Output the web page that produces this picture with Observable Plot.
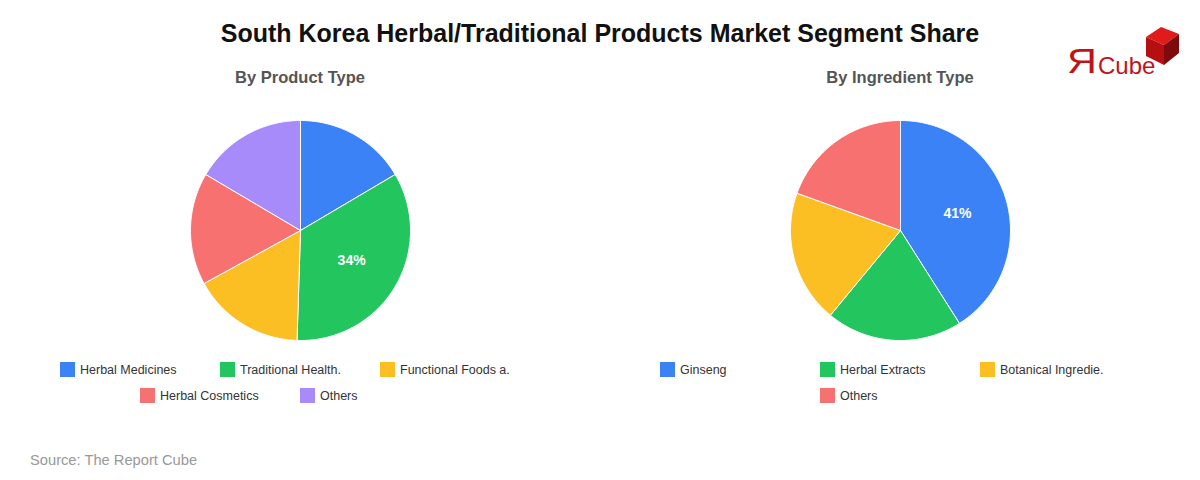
<!DOCTYPE html>
<html>
<head>
<meta charset="utf-8">
<script src="https://cdn.jsdelivr.net/npm/d3@7"></script>
<script src="https://cdn.jsdelivr.net/npm/@observablehq/plot@0.6"></script>
<style>
  html, body { margin: 0; padding: 0; background: #fff; }
  body { width: 1200px; height: 480px; position: relative; overflow: hidden; font-family: "Liberation Sans", Arial, sans-serif; }
  #title { position: absolute; top: 18px; left: 0; width: 1200px; text-align: center; font-size: 25px; font-weight: bold; color: #111; line-height: 30px; }
  .col { position: absolute; top: 0; width: 600px; height: 420px; }
  .sub { position: absolute; top: 67px; left: 0; width: 600px; text-align: center; font-size: 16.5px; font-weight: bold; color: #555; line-height: 20px; }
  .chart { position: absolute; top: 110px; left: 0; }
  .legend { position: absolute; top: 362px; left: 60px; width: 480px; display: flex; flex-wrap: wrap; justify-content: center; row-gap: 11px; }
  .item { width: 160px; display: flex; align-items: center; font-size: 12.5px; color: #333; height: 15px; }
  .sw { width: 15px; height: 15px; margin-right: 5px; flex: none; }
  #source { position: absolute; left: 30px; top: 452px; font-size: 14.7px; color: #999; }
  #logo { position: absolute; left: 1060px; top: 20px; width: 130px; height: 64px; }
</style>
</head>
<body>
<div id="title">South Korea Herbal/Traditional Products Market Segment Share</div>
<div class="col" id="left" style="left:0"><div class="sub">By Product Type</div><div class="chart"></div><div class="legend"></div></div>
<div class="col" id="right" style="left:600px"><div class="sub">By Ingredient Type</div><div class="chart"></div><div class="legend"></div></div>
<div id="source">Source: The Report Cube</div>
<svg id="logo" viewBox="0 0 130 64" width="130" height="64">
  <text x="0" y="0" font-family="Liberation Sans, Arial, sans-serif" font-size="36" fill="#c0141b" transform="translate(7,53) scale(1.15,1)">Я</text>
  <text x="38" y="54" font-family="Liberation Sans, Arial, sans-serif" font-size="24" fill="#c0141b">Cube</text>
  <polygon points="86,17 101,7 119,14 104,25" fill="#e01b1b"/>
  <polygon points="86,17 104,25 104,45 86,36" fill="#b50f12"/>
  <polygon points="104,25 119,14 119,33 104,45" fill="#7e0a0c"/>
</svg>
<script>
// ---- data ----
const productCategories = ["Herbal Medicines", "Traditional Health.", "Functional Foods a.", "Herbal Cosmetics", "Others"];
const productValues = [16.5, 34, 16.5, 16.5, 16.5];
const ingredientCategories = ["Ginseng", "Herbal Extracts", "Botanical Ingredie.", "Others"];
const ingredientValues = [41, 20, 19.5, 19.5];
const sliceColors = ["#3b82f6", "#22c55e", "#fbbf24", "#f87171", "#a78bfa"];

function pieChart(sel, categories, values) {
  const total = d3.sum(values);
  const arcs = d3.pie().sort(null).value(d => d)(values);
  const poly = [];
  const labels = [];
  arcs.forEach((a, i) => {
    const cat = categories[i];
    poly.push({cat, x: 0, y: 0});
    const steps = Math.max(2, Math.ceil((a.endAngle - a.startAngle) / (Math.PI / 180)));
    for (let k = 0; k <= steps; k++) {
      const t = a.startAngle + (a.endAngle - a.startAngle) * k / steps;
      poly.push({cat, x: Math.sin(t), y: Math.cos(t)});
    }
    poly.push({cat, x: 0, y: 0});
    const pct = values[i] / total * 100;
    if (pct >= 25) {
      const m = (a.startAngle + a.endAngle) / 2;
      labels.push({x: 0.54 * Math.sin(m), y: 0.54 * Math.cos(m), text: Math.round(pct) + "%"});
    }
  });
  const chart = Plot.plot({
    width: 600,
    height: 240,
    margin: 0,
    x: {domain: [-1, 1], range: [190, 410], axis: null},
    y: {domain: [-1, 1], range: [230, 10], axis: null},
    color: {domain: categories, range: sliceColors.slice(0, categories.length)},
    marks: [
      Plot.line(poly, {x: "x", y: "y", z: "cat", fill: "cat", stroke: "white", strokeWidth: 1, curve: "linear"}),
      Plot.text(labels, {x: "x", y: "y", text: "text", fill: "white", fontSize: 14, fontWeight: "bold"})
    ],
    style: {fontFamily: "Liberation Sans, Arial, sans-serif", background: "transparent"}
  });
  document.querySelector(sel + " .chart").appendChild(chart);
  const leg = document.querySelector(sel + " .legend");
  categories.forEach((c, i) => {
    const it = document.createElement("div");
    it.className = "item";
    it.innerHTML = `<span class="sw" style="background:${sliceColors[i]}"></span><span>${c}</span>`;
    leg.appendChild(it);
  });
}
pieChart("#left", productCategories, productValues);
pieChart("#right", ingredientCategories, ingredientValues);
</script>
</body>
</html>
